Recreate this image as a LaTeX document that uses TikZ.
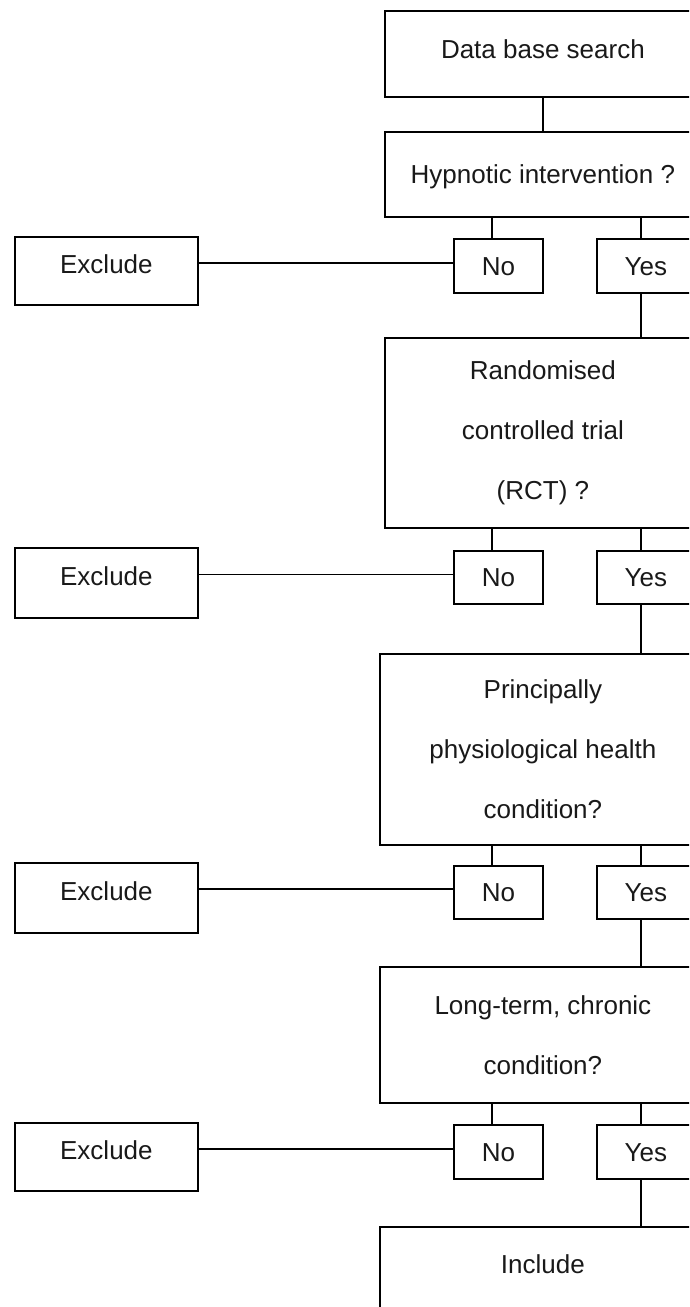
\documentclass[tikz,border=0pt]{standalone}
\usepackage{fontspec}
\setmainfont{Liberation Sans}
\begin{document}
\begin{tikzpicture}[x=1pt,y=-1pt,
  base/.style={draw, line width=1.8pt, inner sep=0pt, anchor=north west,
    font=\fontsize{26}{60}\selectfont, text=black!90},
  one/.style={base, text height=18.7pt, text depth=0pt},
  multi/.style={base, align=center},
  bigbox/.style={minimum width=316pt},
  widebox/.style={minimum width=326pt},
  nobox/.style={one, minimum width=89pt},
  yesbox/.style={one, minimum width=98pt},
  exbox/.style={one, minimum width=183pt, text depth=14pt},
  conn/.style={line width=1.4pt},
  heavy/.style={line width=2pt},
  light/.style={line width=1.3pt}]
\useasboundingbox (0,0) rectangle (689,1307);
\clip (0,0) rectangle (689,1307);

% question boxes down the right-hand column
\node[one, bigbox, minimum height=86pt, text depth=10pt] (d1) at (384,10) {Data base search};
\node[one, bigbox, minimum height=85pt] (q1) at (384,131) {Hypnotic intervention ?};
\node[multi, bigbox, minimum height=190pt] (q2) at (384,337) {Randomised\\controlled trial\\(RCT) ?};
\node[multi, widebox, minimum height=191pt] (q3) at (379,653) {Principally\\physiological health\\condition?};
\node[multi, widebox, minimum height=136pt] (q4) at (379,966) {Long-term, chronic\\condition?};
\node[one, widebox, minimum height=94pt, text depth=20pt] (inc) at (379,1226) {Include};

% answer boxes
\node[nobox, minimum height=54pt] (no1) at (453,238) {No};
\node[yesbox, minimum height=54pt] (ye1) at (596,238) {Yes};
\node[nobox, minimum height=53pt] (no2) at (453,550) {No};
\node[yesbox, minimum height=53pt] (ye2) at (596,550) {Yes};
\node[nobox, minimum height=53pt] (no3) at (453,865) {No};
\node[yesbox, minimum height=53pt] (ye3) at (596,865) {Yes};
\node[nobox, minimum height=54pt] (no4) at (453,1124) {No};
\node[yesbox, minimum height=54pt] (ye4) at (596,1124) {Yes};

% exclusion boxes on the left
\node[exbox, minimum height=68pt] (ex1) at (14,236) {Exclude};
\node[exbox, minimum height=70pt] (ex2) at (14,547) {Exclude};
\node[exbox, minimum height=70pt] (ex3) at (14,862) {Exclude};
\node[exbox, minimum height=68pt] (ex4) at (14,1122) {Exclude};

% vertical tracks for the No and Yes branches
\coordinate (nl) at (492,0);
\coordinate (yl) at (641,0);

\draw[conn] (d1.south) -- (q1.north);

\draw[conn] (nl |- q1.south) -- (nl |- no1.north);
\draw[conn] (yl |- q1.south) -- (yl |- ye1.north);
\draw[conn] (yl |- ye1.south) -- (yl |- q2.north);

\draw[conn] (nl |- q2.south) -- (nl |- no2.north);
\draw[conn] (yl |- q2.south) -- (yl |- ye2.north);
\draw[conn] (yl |- ye2.south) -- (yl |- q3.north);

\draw[conn] (nl |- q3.south) -- (nl |- no3.north);
\draw[conn] (yl |- q3.south) -- (yl |- ye3.north);
\draw[conn] (yl |- ye3.south) -- (yl |- q4.north);

\draw[conn] (nl |- q4.south) -- (nl |- no4.north);
\draw[conn] (yl |- q4.south) -- (yl |- ye4.north);
\draw[conn] (yl |- ye4.south) -- (yl |- inc.north);

% No -> Exclude links
\path ([yshift=3pt]no1.west) coordinate (r1);
\path ([yshift=3pt]no2.west) coordinate (r2);
\path ([yshift=3pt]no3.west) coordinate (r3);
\path ([yshift=3pt]no4.west) coordinate (r4);
\draw[heavy] (r1) -- (r1 -| ex1.east);
\draw[light] (r2) -- (r2 -| ex2.east);
\draw[heavy] (r3) -- (r3 -| ex3.east);
\draw[light] (r4) -- (r4 -| ex4.east);
\end{tikzpicture}
\end{document}
